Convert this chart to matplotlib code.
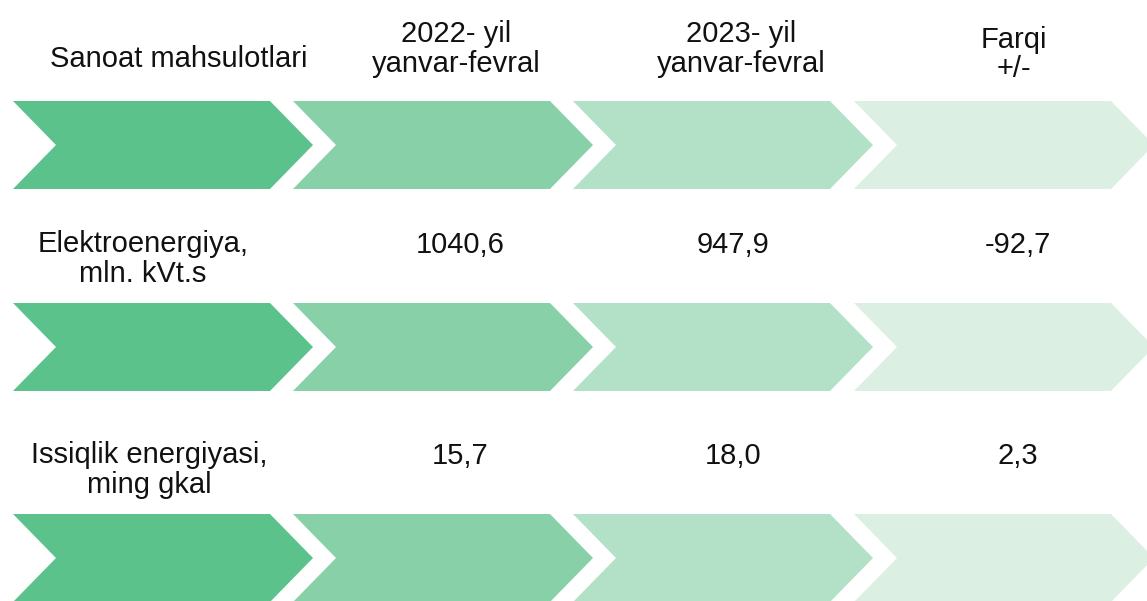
import matplotlib
matplotlib.use("Agg")
import matplotlib.pyplot as plt
from matplotlib.patches import Polygon

# ---- data ----
header_labels = ["Sanoat mahsulotlari", "2022- yil\nyanvar-fevral", "2023- yil\nyanvar-fevral", "Farqi\n+/-"]
products = ["Elektroenergiya,\nmln. kVt.s", "Issiqlik energiyasi,\nming gkal"]
values_2022 = ["1040,6", "15,7"]
values_2023 = ["947,9", "18,0"]
differences = ["-92,7", "2,3"]

# ---- styling / layout ----
W, H = 1147, 601
chevron_colors = ["#5BC28B", "#88D1A8", "#B3E1C7", "#DBF0E2"]
chev_x = [13, 293, 573, 854]
chev_top = [101, 303, 514]
chev_h = 88
flat_w = 257
point = 43
font = ["Liberation Sans", "DejaVu Sans"]
fs = 21
line_gap = 30

fig = plt.figure(figsize=(W / 100, H / 100), dpi=100)
ax = fig.add_axes([0, 0, 1, 1])
ax.set_xlim(0, W)
ax.set_ylim(H, 0)
ax.axis("off")

for top in chev_top:
    mid = top + chev_h / 2
    for x0, col in zip(chev_x, chevron_colors):
        pts = [(x0, top), (x0 + flat_w, top), (x0 + flat_w + point, mid),
               (x0 + flat_w, top + chev_h), (x0, top + chev_h), (x0 + point, mid)]
        ax.add_patch(Polygon(pts, closed=True, facecolor=col, edgecolor="none"))


def put(text, xc, baseline, gap=line_gap):
    for i, line in enumerate(text.split("\n")):
        ax.text(xc, baseline + i * gap, line, ha="center", va="baseline",
                fontsize=fs, family=font, color="#111111")


# header
header_x = [179, 456, 741, 1014]
header_base = [67, 42, 42, 48]
header_gap = [30, 30, 30, 29]
for lab, xc, yb, g in zip(header_labels, header_x, header_base, header_gap):
    put(lab, xc, yb, g)

# rows
row_base = [252, 463]
name_x = [143, 149]
val_x = [460, 733, 1018]
for i, name in enumerate(products):
    put(name, name_x[i], row_base[i])
    for xc, v in zip(val_x, [values_2022[i], values_2023[i], differences[i]]):
        put(v, xc, row_base[i] + 1)

fig.savefig("out.png", dpi=100)
